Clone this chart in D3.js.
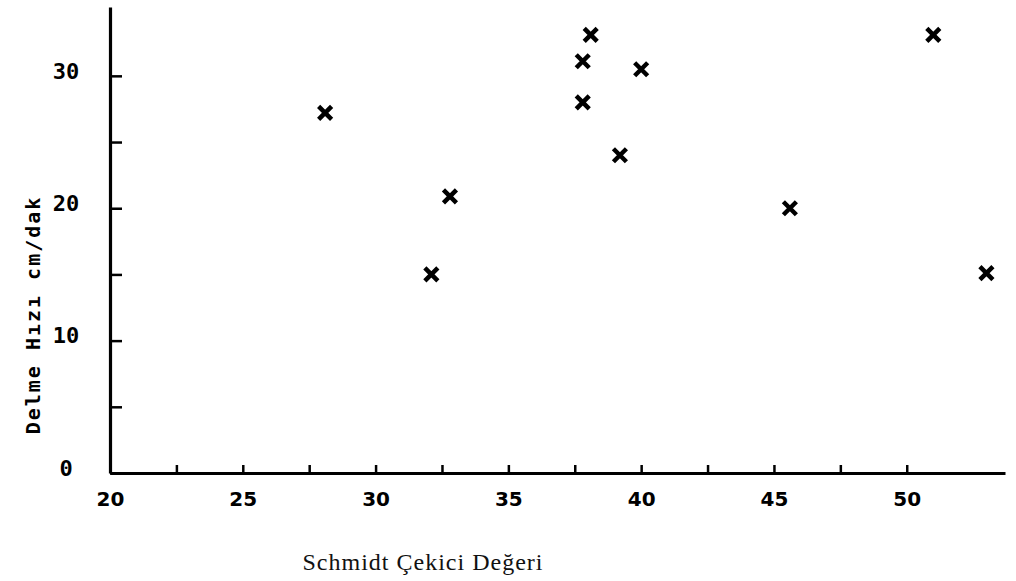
<!DOCTYPE html>
<html>
<head>
<meta charset="utf-8">
<script src="https://cdn.jsdelivr.net/npm/d3@7"></script>
<style>
  html, body { margin: 0; padding: 0; background: #fff; }
  svg { display: block; }
</style>
</head>
<body>
<svg id="chart" width="1016" height="581"></svg>
<script>
// ---- data ----
const schmidtValues = [28.1, 32.8, 32.1, 38.1, 37.8, 40.0, 37.8, 39.2, 51.0, 45.6, 53.0];
const drillRates    = [27.2, 20.9, 15.0, 33.1, 31.1, 30.5, 28.0, 24.0, 33.1, 20.0, 15.1];
const xTicks = [20, 22.5, 25, 27.5, 30, 32.5, 35, 37.5, 40, 42.5, 45, 47.5, 50];
const xTickLabels = ["20", "", "25", "", "30", "", "35", "", "40", "", "45", "", "50"];
const yTicks = [0, 5, 10, 15, 20, 25, 30];
const yTickLabels = ["0", "", "10", "", "20", "", "30"];
const xTitle = "Schmidt Çekici Değeri";
const yTitle = "Delme Hızı cm/dak";

const points = schmidtValues.map((v, i) => ({ x: v, y: drillRates[i] }));

const svg = d3.select("#chart");
const x = d3.scaleLinear().domain([20, 53.7]).range([110, 1005]);
const y = d3.scaleLinear().domain([0, 35.2]).range([473, 7]);

const monoBold = "'DejaVu Sans Mono', monospace";

// Y axis
const yAxis = d3.axisLeft(y)
  .tickValues(yTicks)
  .tickFormat((d, i) => yTickLabels[i])
  .tickSizeInner(-12)
  .tickSizeOuter(0);
const gy = svg.append("g").attr("transform", `translate(${x(20)},0)`).call(yAxis);
gy.select(".domain").attr("stroke", "#000").attr("stroke-width", 3.2);
gy.selectAll(".tick line").attr("stroke", "#000").attr("stroke-width", 2.5);
gy.selectAll(".tick text")
  .attr("x", -44).attr("dy", "0.1em")
  .attr("text-anchor", "middle")
  .attr("fill", "#000")
  .style("font-family", monoBold).style("font-weight", "bold").style("font-size", "22px");

// X axis
const xAxis = d3.axisBottom(x)
  .tickValues(xTicks)
  .tickFormat((d, i) => xTickLabels[i])
  .tickSizeInner(-8)
  .tickSizeOuter(0);
const gx = svg.append("g").attr("transform", `translate(0,${y(0)})`).call(xAxis);
gx.select(".domain").attr("stroke", "#000").attr("stroke-width", 3.2);
gx.selectAll(".tick line").attr("stroke", "#000").attr("stroke-width", 2.5);
gx.selectAll(".tick text")
  .attr("y", 19)
  .attr("fill", "#000")
  .style("font-family", "'DejaVu Sans', sans-serif").style("font-weight", "bold").style("font-size", "20px");

// Marks
const sym = d3.symbol().type(d3.symbolX).size(112);
svg.append("g").selectAll("path")
  .data(points)
  .join("path")
  .attr("transform", d => `translate(${x(d.x)},${y(d.y)})`)
  .attr("d", sym)
  .attr("fill", "none")
  .attr("stroke", "#000")
  .attr("stroke-width", 4.5);

// Titles
svg.append("text")
  .attr("transform", "translate(40,315) rotate(-90)")
  .attr("text-anchor", "middle")
  .style("font-family", monoBold).style("font-weight", "bold")
  .style("font-size", "20px").style("letter-spacing", "2px")
  .attr("fill", "#000")
  .text(yTitle);

svg.append("text")
  .attr("x", 423).attr("y", 570)
  .attr("text-anchor", "middle")
  .style("font-family", "'Liberation Serif', serif")
  .style("font-size", "24px").style("letter-spacing", "1px")
  .attr("fill", "#111")
  .text(xTitle);
</script>
</body>
</html>
